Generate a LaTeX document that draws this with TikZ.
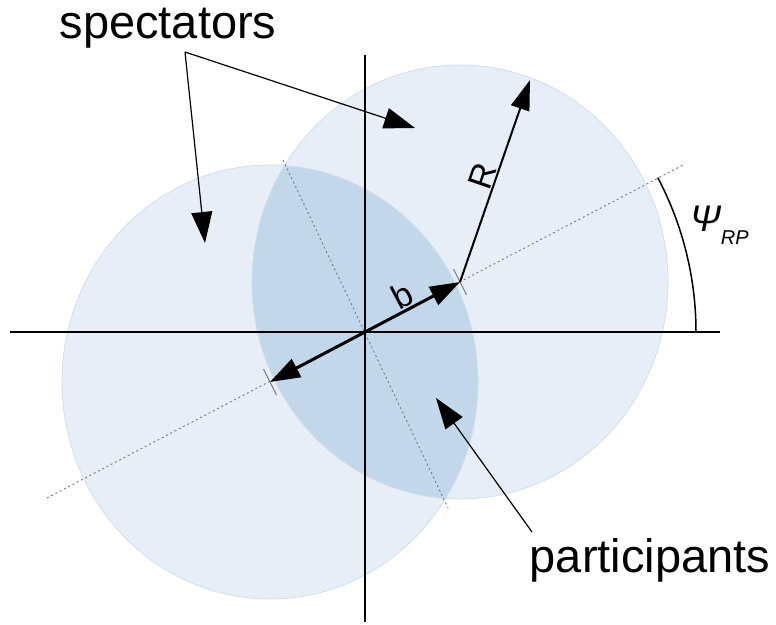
\documentclass[tikz,border=0pt]{standalone}
\usepackage{fontspec}
\setmainfont{Liberation Sans}
\usetikzlibrary{arrows.meta,calc}
\definecolor{lightfill}{HTML}{E7EEF7}
\definecolor{darkfill}{HTML}{C3D7EB}
\definecolor{edgecol}{HTML}{D0DDEC}
\definecolor{planecol}{HTML}{777777}
\begin{document}
\begin{tikzpicture}[x=1pt,y=-1pt,
  nucleus/.style={x radius=208pt,y radius=217pt},
  edgeline/.style={draw=edgecol,line width=0.7pt},
  planeline/.style={draw=planecol,line width=0.9pt,dash pattern=on 2pt off 2.8pt},
  axisline/.style={draw=black,line width=2.6pt},
  tickline/.style={draw=planecol,line width=0.9pt},
  bigtip/.style={-{Triangle[length=31pt,width=21pt]}},
  thinarrow/.style={draw=black,line width=1.2pt,bigtip},
  bigtext/.style={font=\fontsize{47}{56}\selectfont,inner sep=0pt},
  midtext/.style={font=\fontsize{34}{40}\selectfont,inner sep=1pt}
]
\useasboundingbox (0,0) rectangle (776,624);
\fill[white] (0,0) rectangle (776,624);
% centres
\coordinate (O) at (365,332);
\coordinate (C1) at (460,282);
\coordinate (C2) at (270,382);
% nuclei
\fill[lightfill] (C1) ellipse[nucleus];
\fill[lightfill] (C2) ellipse[nucleus];
\begin{scope}
  \clip (C1) ellipse[nucleus];
  \fill[darkfill] (C2) ellipse[nucleus];
\end{scope}
\draw[edgeline] (C1) ellipse[nucleus];
\draw[edgeline] (C2) ellipse[nucleus];
% reaction plane and perpendicular
\coordinate (P1) at (47,498);
\coordinate (P2) at (683,165);
\coordinate (Q1) at (283,160);
\coordinate (Q2) at (448,508);
\draw[planeline] (P1) -- (P2);
\draw[planeline] (Q1) -- (Q2);
% axes
\coordinate (XL) at (10,332);
\coordinate (XR) at (720,332);
\coordinate (YT) at (365,55);
\coordinate (YB) at (365,622);
\draw[axisline] (XL) -- (XR);
\draw[axisline] (YT) -- (YB);
% ticks at centres
\draw[tickline] ($(C1)+(-6.5,-13)$) -- ($(C1)+(6.5,13)$);
\draw[tickline] ($(C2)+(-6.5,-13)$) -- ($(C2)+(6.5,13)$);
% impact parameter
\draw[line width=3pt,{Triangle[length=30pt,width=20pt]}-{Triangle[length=30pt,width=20pt]}]
  (C2) -- node[midtext,sloped,above,pos=0.73] (blab) {b} (C1);
% radius
\coordinate (Rtip) at (530,80);
\draw[line width=2pt,-{Triangle[length=30pt,width=19pt]}]
  (C1) -- node[midtext,sloped,above,pos=0.5] (Rlab) {R} (Rtip);
% reaction plane angle
\coordinate (A1) at (696,332);
\draw[line width=1.5pt] (A1) arc[start angle=0,end angle=27.8,radius=331pt];
\node[inner sep=0pt,anchor=base west,font=\fontsize{37}{40}\selectfont\itshape] (psi) at (690,231)
  {Ψ\raisebox{-13pt}{\fontsize{20}{20}\selectfont RP}};
% spectators
\node[bigtext,anchor=base] (spec) at (168,38) {spectators};
\coordinate (S0) at (185,52);
\coordinate (S1) at (415,128);
\coordinate (S2) at (205,243);
\draw[thinarrow] (S0) -- (S1);
\draw[thinarrow] (S0) -- (S2);
% participants
\node[bigtext,anchor=base] (part) at (650,572) {participants};
\coordinate (T0) at (532,532);
\coordinate (T1) at (436,398);
\draw[thinarrow] (T0) -- (T1);
\end{tikzpicture}
\end{document}
